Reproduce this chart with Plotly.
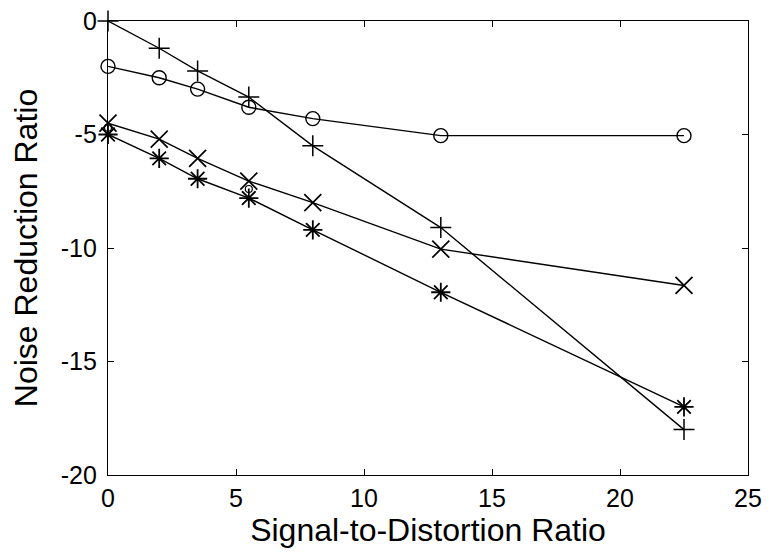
import plotly.graph_objects as go

snr = [0, 2, 3.5, 5.5, 8, 13, 22.5]
plus_vals = [0, -1.2, -2.2, -3.35, -5.5, -9.1, -18.0]
circle_vals = [-2.0, -2.5, -3.0, -3.8, -4.3, -5.05, -5.05]
x_vals = [-4.5, -5.2, -6.05, -7.05, -8.0, -10.05, -11.65]
star_vals = [-5.0, -6.05, -6.95, -7.8, -9.2, -11.95, -17.0]
extra_x = [0, 5.5]
extra_vals = [-4.7, -7.4]

x_ticks = [0, 5, 10, 15, 20, 25]
y_ticks = [0, -5, -10, -15, -20]

FONT = "Liberation Sans, Arial, Helvetica, sans-serif"
line = dict(color="black", width=1.4)

fig = go.Figure()
fig.add_trace(go.Scatter(x=snr, y=plus_vals, mode="lines+markers", line=line, cliponaxis=False,
                         marker=dict(symbol="cross-thin-open", size=15, color="black",
                                     line=dict(color="black", width=1.5))))
fig.add_trace(go.Scatter(x=snr, y=circle_vals, mode="lines+markers", line=line, cliponaxis=False,
                         marker=dict(symbol="circle-open", size=14, color="black",
                                     line=dict(color="black", width=1.4))))
fig.add_trace(go.Scatter(x=snr, y=x_vals, mode="lines+markers", line=line, cliponaxis=False,
                         marker=dict(symbol="x-thin-open", size=17, color="black",
                                     line=dict(color="black", width=1.7))))
fig.add_trace(go.Scatter(x=snr, y=star_vals, mode="lines+markers", line=line, cliponaxis=False,
                         marker=dict(symbol="asterisk-open", size=16, color="black",
                                     line=dict(color="black", width=1.8))))
fig.add_trace(go.Scatter(x=extra_x, y=extra_vals, mode="markers", cliponaxis=False,
                         marker=dict(symbol="circle-open", size=7, color="black",
                                     line=dict(color="black", width=1.2))))

axis_common = dict(showgrid=False, zeroline=False, showline=True, linecolor="black",
                   linewidth=1.4, mirror="ticks", ticks="inside", ticklen=6,
                   tickcolor="black", tickwidth=1.2, automargin=False,
                   ticklabeloverflow="allow",
                   tickfont=dict(family=FONT, size=25, color="black"))

fig.update_xaxes(range=[0, 25], tickvals=x_ticks, ticktext=[str(v) for v in x_ticks],
                 ticklabelstandoff=1,
                 title=dict(text="Signal-to-Distortion Ratio",
                            font=dict(family=FONT, size=32, color="black"), standoff=0),
                 **axis_common)
fig.update_yaxes(range=[-20, 0], tickvals=y_ticks, ticktext=[str(v) for v in y_ticks],
                 ticklabelstandoff=5,
                 title=dict(text="Noise Reduction Ratio",
                            font=dict(family=FONT, size=32, color="black"), standoff=14),
                 **axis_common)

fig.update_layout(width=762, height=544, showlegend=False,
                  plot_bgcolor="white", paper_bgcolor="white",
                  margin=dict(l=100, r=22, t=13, b=77))

fig.write_html("out.html")
